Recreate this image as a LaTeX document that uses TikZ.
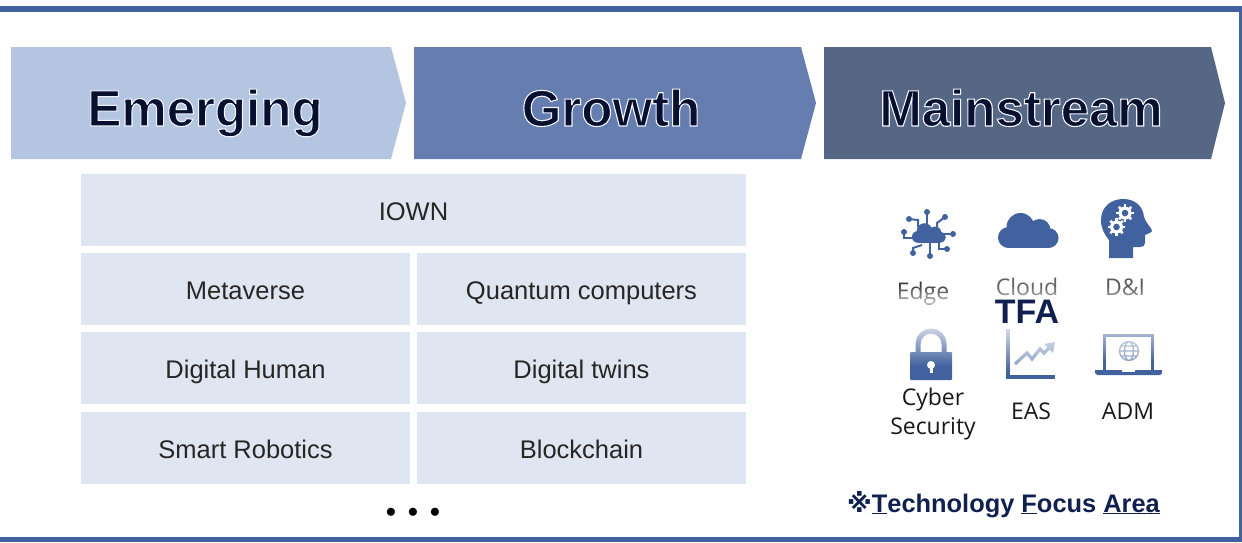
\documentclass[tikz,border=0pt]{standalone}
\usepackage{fontspec}
\setmainfont{Liberation Sans}
\newfontfamily\iconfont{Open Sans}
\newfontfamily\markfont{DejaVu Sans}
\usetikzlibrary{positioning,fadings}
\definecolor{frameblue}{HTML}{41619F}
\definecolor{iconblue}{HTML}{41619F}
\definecolor{emergingfill}{HTML}{B4C5E1}
\definecolor{growthfill}{HTML}{667EAF}
\definecolor{mainfill}{HTML}{566685}
\definecolor{tilefill}{HTML}{DFE5F1}
\definecolor{navytext}{HTML}{10204F}
\definecolor{stagetext}{HTML}{081030}
\newcommand{\haloed}[1]{\special{pdf:code 2 Tr 1.1 w 0.95 0.96 1 RG}#1\special{pdf:code 0 Tr}}
\tikzset{
	stage/.style={font=\fontsize{51}{56}\selectfont\bfseries, text=stagetext, inner sep=0pt, anchor=base},
	tile/.style={fill=tilefill, minimum height=72pt, minimum width=329pt, inner sep=0pt, outer sep=0pt, text height=20pt, text depth=0pt, font=\fontsize{25.5}{30}\selectfont, text=black!85},
	iconlabel/.style={font=\iconfont\fontsize{23}{29}\selectfont, text=black!90, inner sep=0pt, anchor=base},
	cloudicon/.pic={
		\fill (-8,-3.5) circle (14pt) (11,-0.5) circle (11pt) (20,7.5) circle (10pt) (-20,7) circle (10.5pt);
		\fill (-20,5) rectangle (20,17.5);
	},
	gearicon/.pic={
		\fill[white] (0,0) circle (6.5pt);
		\foreach \a in {0,45,...,315}
			\draw[white,line width=2.5pt] (\a:5pt) -- (\a:8.8pt);
		\fill[iconblue] (0,0) circle (3.3pt);
	},
	spoke/.style={iconblue,line width=2pt}
}
\begin{document}
\begin{tikzpicture}[x=1pt,y=-1pt]
	\useasboundingbox (0,0) rectangle (1242,542);
	% frame
	\fill[frameblue] (0,6) rectangle (1242,12);
	\fill[frameblue] (1239,6) rectangle (1242,542);
	\fill[frameblue] (0,537) rectangle (1242,542);

	% stages
	\fill[emergingfill] (11,47) -- (391,47) -- (406,103) -- (391,159) -- (11,159) -- cycle;
	\fill[growthfill] (414,47) -- (801,47) -- (816,103) -- (801,159) -- (414,159) -- cycle;
	\fill[mainfill] (824,47) -- (1211,47) -- (1225,103) -- (1211,159) -- (824,159) -- cycle;
	\node[stage] (emerging) at (205,126) {\haloed{Emerging}};
	\node[stage] (growth) at (611,126) {\haloed{Growth}};
	\node[stage] (mainstream) at (1021,126) {\haloed{Mainstream}};

	% tiles
	\node[tile, minimum width=665pt] (iown) at (413.5,210) {IOWN};
	\node[tile, below right=7pt and 0pt of iown.south west] (metaverse) {Metaverse};
	\node[tile, right=7pt of metaverse] (quantum) {Quantum computers};
	\node[tile, below=7pt of metaverse] (human) {Digital Human};
	\node[tile, below=7pt of quantum] (twins) {Digital twins};
	\node[tile, below=8pt of human] (robotics) {Smart Robotics};
	\node[tile, below=8pt of twins] (blockchain) {Blockchain};
	\node[inner sep=0pt, anchor=base, font=\fontsize{28}{30}\selectfont\bfseries] (more) at (413,521) {\spaceskip=12.2pt • • •};

	% edge icon
	\begin{scope}[iconblue]
		\pic[scale=0.56] at (929,233) {cloudicon};
		\draw[spoke] (927,212) -- (927,224);
		\draw[spoke] (909,219) -- (918,220) -- (918,227);
		\draw[spoke] (945,217) -- (937,223) -- (937,227);
		\draw[spoke] (953,234) -- (944,234);
		\draw[spoke] (904,232) -- (904,238) -- (913,238);
		\draw[spoke] (913,253) -- (913,248) -- (922,245);
		\draw[spoke] (930,256) -- (930,242);
		\draw[spoke] (947,249) -- (939,249) -- (939,242);
		\fill (927,212) circle (3pt) (909,219) circle (3pt) (945,217) circle (3pt) (953,234) circle (3pt);
		\fill (904,232) circle (3pt) (913,253) circle (3pt) (930,256) circle (3pt) (947,249) circle (3pt);
	\end{scope}

	% cloud icon
	\pic[iconblue] at (1028.5,230.5) {cloudicon};

	% head icon
	\fill[iconblue] (1109,258) -- (1109,240) .. controls (1104,234) and (1101,228) .. (1101,220)
		.. controls (1101,207) and (1111,199) .. (1123,199) .. controls (1135,199) and (1143,206) .. (1144,217)
		.. controls (1145,222) and (1152,228) .. (1152,231) .. controls (1151,233) and (1147,234) .. (1145,235)
		-- (1145,243) .. controls (1145,246) and (1143,247) .. (1140,247) -- (1133,247) -- (1133,258) -- cycle;
	\pic at (1125,213) {gearicon};
	\pic at (1116.5,227) {gearicon};

	% lock icon
	\draw[iconblue,line width=5pt] (918,354) -- (918,344) arc[start angle=180, end angle=0, radius=13pt] -- (944,354);
	\fill[iconblue,rounded corners=1pt] (910,352) rectangle (952,380);
	\fill[white] (931,365) circle (4pt);
	\fill[white] (929.5,366) rectangle (932.5,373);
	\fill[white,fill opacity=.8,path fading=south] (905,325) rectangle (957,366);

	% chart icon
	\fill[iconblue] (1006,329) rectangle (1010,379);
	\fill[iconblue] (1006,375) rectangle (1055,379);
	\draw[iconblue!65,line width=3.2pt] (1015,364) -- (1027,353) -- (1032,359) -- (1040,349) -- (1044,353) -- (1050,347);
	\fill[iconblue!65] (1055,342) -- (1053,353) -- (1044,344) -- cycle;
	\fill[white,fill opacity=.85,path fading=south] (1002,325) rectangle (1058,372);

	% laptop icon
	\draw[iconblue,line width=3pt] (1104.5,371) -- (1104.5,335.5) -- (1152,335.5) -- (1152,371);
	\fill[iconblue] (1095,370) -- (1162,370) -- (1162,373) -- (1160,375) -- (1097,375) -- (1095,373) -- cycle;
	\fill[white] (1122,370) rectangle (1135,371.5);
	\draw[iconblue!60,line width=1.3pt] (1129,351) circle (9.5pt) (1129,351) ellipse (4.5pt and 9.5pt) (1119.5,351) -- (1138.5,351) (1121,346) -- (1137,346) (1121,356) -- (1137,356);
	\fill[white,fill opacity=.6,path fading=south] (1098,330) rectangle (1158,362);

	% labels
	\node[iconlabel, text=black!75] (edge) at (923,299) {Edge};
	\node[iconlabel, text=black!60] (cloud) at (1027,295) {Cloud};
	\node[iconlabel, text=black!65] (di) at (1125,295) {D\&I};
	\fill[white,fill opacity=.7,path fading=north] (880,286) rectangle (1150,304);
	\node[iconlabel] (cyber) at (933,405) {Cyber};
	\node[iconlabel] (security) at (933,434) {Security};
	\node[iconlabel] (eas) at (1031,419) {EAS};
	\node[iconlabel] (adm) at (1128,419) {ADM};
	\node[font=\fontsize{34}{36}\selectfont\bfseries, text=navytext, inner sep=0pt, anchor=base] (tfa) at (1027,323) {TFA};

	\node[font=\fontsize{25.4}{30}\selectfont\bfseries, text=navytext, inner sep=0pt, anchor=base] (note) at (1003.5,512) {{\markfont ※}\underline{T}echnology \underline{F}ocus \underline{Area}};
\end{tikzpicture}
\end{document}
